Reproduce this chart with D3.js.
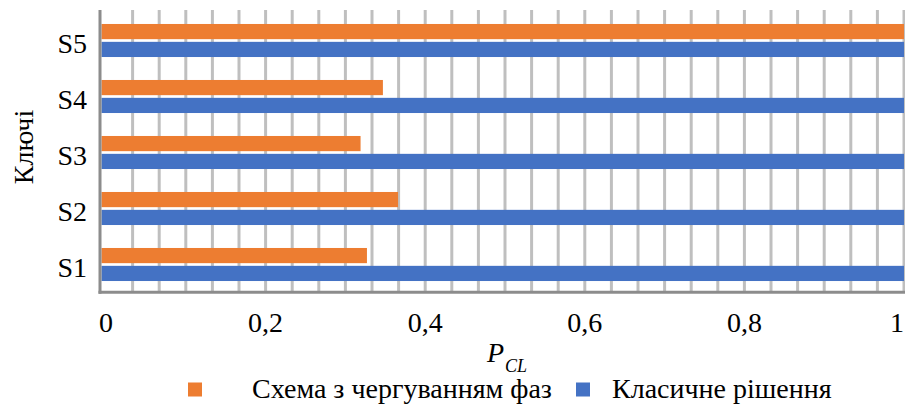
<!DOCTYPE html>
<html>
<head>
<meta charset="utf-8">
<script src="https://cdn.jsdelivr.net/npm/d3@7"></script>
<style>
html, body { margin: 0; padding: 0; background: #fff; }
svg { display: block; }
</style>
</head>
<body>
<svg id="chart" width="905" height="408" font-family="'Liberation Serif', 'DejaVu Serif', serif"></svg>
<script>
const categories = ["S1", "S2", "S3", "S4", "S5"];
const seriesNames = ["Схема з чергуванням фаз", "Класичне рішення"];
const phaseValues = [0.327, 0.366, 0.319, 0.347, 1.0];
const classicValues = [1.0, 1.0, 1.0, 1.0, 1.0];
const xTickValues = [0, 0.2, 0.4, 0.6, 0.8, 1];
const xTickLabels = ["0", "0,2", "0,4", "0,6", "0,8", "1"];
const gridStep = 1 / 30;
const yTitle = "Ключі";
const xTitleMain = "P";
const xTitleSub = "CL";

const colors = ["#ED7D31", "#4472C4"];
const FONT = "'Liberation Serif', 'DejaVu Serif', serif";
const svg = d3.select("#chart");

const plotLeft = 100, plotTop = 10, plotBottom = 292.3;
const x = d3.scaleLinear().domain([0, 1]).range([106, 904]);
const y0 = d3.scaleBand().domain(categories.slice().reverse())
  .range([12.5, 292.5]).paddingInner(0.41).paddingOuter(0.205);
const y1 = d3.scaleBand().domain([0, 1]).range([0, y0.bandwidth()]).paddingInner(0.15);

// gridlines
const gridVals = d3.range(1, 31).map(k => k * gridStep);
svg.append("g").selectAll("line").data(gridVals).join("line")
  .attr("x1", d => x(d)).attr("x2", d => x(d))
  .attr("y1", plotTop).attr("y2", plotBottom)
  .attr("stroke", "#BFBFBF").attr("stroke-width", 3);

// bars
const table = categories.map((c, i) => ({ cat: c, vals: [phaseValues[i], classicValues[i]] }));
const groups = svg.append("g").selectAll("g").data(table).join("g")
  .attr("transform", d => `translate(0,${y0(d.cat)})`);
groups.selectAll("rect").data(d => d.vals.map((v, s) => ({ v, s }))).join("rect")
  .attr("x", plotLeft + 1.5)
  .attr("y", d => y1(d.s))
  .attr("width", d => x(d.v) - (plotLeft + 1.5))
  .attr("height", y1.bandwidth())
  .attr("fill", d => colors[d.s]);

// axis lines
svg.append("line").attr("x1", plotLeft).attr("x2", plotLeft)
  .attr("y1", plotTop).attr("y2", plotBottom + 1.5)
  .attr("stroke", "#8C8C8C").attr("stroke-width", 3);
svg.append("line").attr("x1", plotLeft - 1.5).attr("x2", 905)
  .attr("y1", plotBottom).attr("y2", plotBottom)
  .attr("stroke", "#8C8C8C").attr("stroke-width", 3);

const tg = svg.append("g").attr("font-family", FONT).attr("fill", "#000");

// y category labels
tg.append("g").selectAll("text").data(categories).join("text")
  .attr("font-family", FONT)
  .attr("x", 87).attr("y", d => y0(d) + y0.bandwidth() / 2 + 12.5)
  .attr("text-anchor", "end").attr("font-size", 28)
  .text(d => d);

// x tick labels
tg.append("g").selectAll("text").data(xTickValues).join("text")
  .attr("font-family", FONT)
  .attr("x", d => x(d)).attr("y", 332)
  .attr("text-anchor", (d, i) => i === xTickValues.length - 1 ? "end" : "middle")
  .attr("font-size", 28)
  .text((d, i) => xTickLabels[i]);

// x title
const xt = tg.append("text").attr("font-family", FONT).attr("x", 487).attr("y", 362).attr("font-size", 28).attr("font-style", "italic");
xt.append("tspan").text(xTitleMain);
xt.append("tspan").attr("font-size", 18).attr("dx", 1).attr("dy", 10).text(xTitleSub);

// y title
tg.append("text").attr("font-family", FONT).attr("transform", "translate(33,147) rotate(-90)")
  .attr("text-anchor", "middle").attr("font-size", 28).text(yTitle);

// legend
const legendItems = [
  { sx: 188, tx: 252 },
  { sx: 576, tx: 612 }
];
const lg = tg.append("g").selectAll("g").data(seriesNames).join("g");
lg.append("rect").attr("x", (d, i) => legendItems[i].sx).attr("y", 382.5)
  .attr("width", 14).attr("height", 14).attr("fill", (d, i) => colors[i]);
lg.append("text").attr("font-family", FONT).attr("x", (d, i) => legendItems[i].tx).attr("y", 398)
  .attr("font-size", 28).text(d => d);
</script>
</body>
</html>
